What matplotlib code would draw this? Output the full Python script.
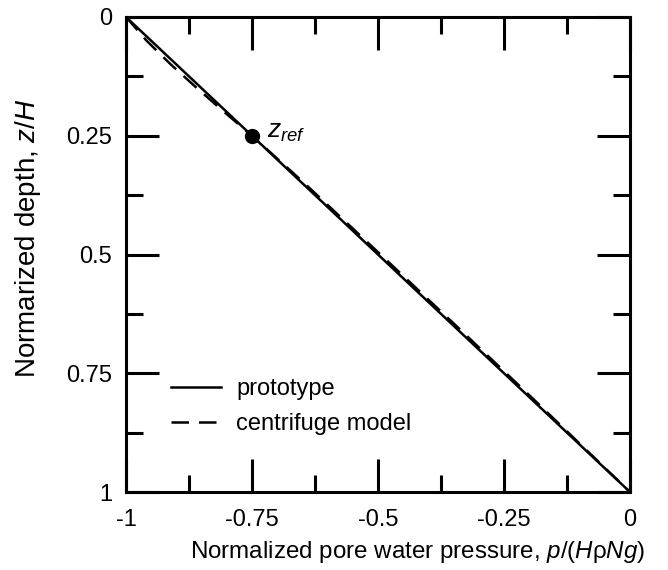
import matplotlib
matplotlib.use("Agg")
import matplotlib.pyplot as plt
from matplotlib.ticker import FixedLocator, FixedFormatter

plt.rcParams['font.family'] = ['Liberation Sans', 'DejaVu Sans']
plt.rcParams['mathtext.fontset'] = 'custom'
plt.rcParams['mathtext.rm'] = 'Liberation Sans'
plt.rcParams['mathtext.it'] = 'Liberation Sans:italic'
plt.rcParams['axes.unicode_minus'] = False

# Data
proto_depth = [0.0, 1.0]
proto_pressure = [-1.0, 0.0]
model_depth = [0.0, 0.05, 0.1, 0.15, 0.2, 0.25, 0.35, 0.5, 0.65, 0.8, 0.9, 1.0]
model_pressure = [-1.0, -0.959, -0.911, -0.859, -0.805, -0.75, -0.646, -0.495, -0.345, -0.196, -0.098, 0.0]
zref_pressure = -0.75
zref_depth = 0.25
x_ticks = [-1, -0.75, -0.5, -0.25, 0]
x_ticklabels = ["-1", "-0.75", "-0.5", "-0.25", "0"]
y_ticks = [0, 0.25, 0.5, 0.75, 1]
y_ticklabels = ["0", "0.25", "0.5", "0.75", "1"]
x_minor = [-0.875, -0.625, -0.375, -0.125]
y_minor = [0.125, 0.375, 0.625, 0.875]

FS = 17

fig = plt.figure(figsize=(6.68, 5.70), dpi=100)
ax = fig.add_axes([0.1886, 0.1368, 0.7545, 0.8334])

ax.plot(proto_pressure, proto_depth, color='black', lw=1.8, label='prototype')
ax.plot(model_pressure, model_depth, color='black', lw=1.8,
        linestyle=(0, (7, 4)), label='centrifuge model')
ax.plot([zref_pressure], [zref_depth], 'o', color='black', ms=10, zorder=5)
ax.text(zref_pressure + 0.03, zref_depth - 0.008, r'$\mathit{z}_{\mathit{ref}}$',
        fontsize=19, va='center', ha='left')

ax.set_xlim(-1, 0)
ax.set_ylim(1, 0)
ax.xaxis.set_major_locator(FixedLocator(x_ticks))
ax.xaxis.set_major_formatter(FixedFormatter(x_ticklabels))
ax.yaxis.set_major_locator(FixedLocator(y_ticks))
ax.yaxis.set_major_formatter(FixedFormatter(y_ticklabels))
ax.xaxis.set_minor_locator(FixedLocator(x_minor))
ax.yaxis.set_minor_locator(FixedLocator(y_minor))

for s in ax.spines.values():
    s.set_linewidth(2.2)
ax.tick_params(which='both', direction='in', top=True, right=True, width=2.2,
               labelsize=FS, color='black')
ax.tick_params(which='major', length=24)
ax.tick_params(which='minor', length=12.5)
ax.tick_params(axis='x', which='major', pad=12)
ax.tick_params(axis='y', which='major', pad=10)

ax.set_xlabel(r'Normalized pore water pressure, $\mathit{p}$/($\mathit{H}$ρ$\mathit{Ng}$)',
              fontsize=17.4)
ax.xaxis.set_label_coords(0.579, -0.098)
ax.set_ylabel(r'Normarized depth, $\mathit{z}$/$\mathit{H}$', fontsize=20)
ax.yaxis.set_label_coords(-0.164, 0.535)

leg = ax.legend(loc='upper left', bbox_to_anchor=(0.048, 0.285), frameon=False,
                fontsize=FS, handlelength=2.1, handletextpad=0.65, labelspacing=0.55)
for line in leg.get_lines():
    line.set_linewidth(1.8)

fig.savefig('out.png', dpi=100)
